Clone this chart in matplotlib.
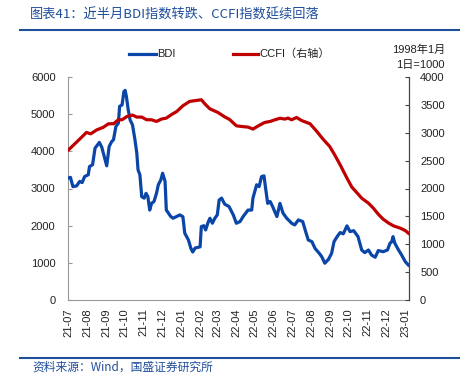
import matplotlib
matplotlib.use("Agg")
import matplotlib.pyplot as plt
import numpy as np
import pandas as pd

plt.rcParams['font.family'] = ['Liberation Sans', 'Noto Sans CJK SC', 'DejaVu Sans']

# ---- data ----
bdi_dates = ["2021-07-01","2021-07-05","2021-07-09","2021-07-15","2021-07-20","2021-07-24","2021-07-28",
             "2021-08-03","2021-08-05","2021-08-10","2021-08-14","2021-08-21","2021-08-25","2021-08-29",
             "2021-09-02","2021-09-06","2021-09-10","2021-09-13","2021-09-17","2021-09-21","2021-09-23",
             "2021-09-27","2021-09-30","2021-10-02","2021-10-04","2021-10-07","2021-10-10","2021-10-14",
             "2021-10-18","2021-10-21","2021-10-23","2021-10-26","2021-10-29","2021-11-02","2021-11-05",
             "2021-11-08","2021-11-11","2021-11-14","2021-11-18","2021-11-22","2021-11-25","2021-11-29",
             "2021-12-02","2021-12-06","2021-12-08","2021-12-11","2021-12-15","2021-12-19","2021-12-24",
             "2021-12-30","2022-01-04","2022-01-07","2022-01-13","2022-01-17","2022-01-20","2022-01-24",
             "2022-02-01","2022-02-03","2022-02-07","2022-02-10","2022-02-14","2022-02-17","2022-02-21",
             "2022-02-25","2022-03-01","2022-03-04","2022-03-08","2022-03-13","2022-03-20","2022-03-27",
             "2022-04-01","2022-04-07","2022-04-12","2022-04-20","2022-04-26","2022-04-28","2022-05-04",
             "2022-05-08","2022-05-12","2022-05-16","2022-05-19","2022-05-22","2022-05-26","2022-05-30",
             "2022-06-06","2022-06-11","2022-06-16","2022-06-22","2022-06-30","2022-07-05","2022-07-11",
             "2022-07-18","2022-07-22","2022-07-27","2022-08-02","2022-08-07","2022-08-14","2022-08-18",
             "2022-08-23","2022-08-29","2022-09-03","2022-09-07","2022-09-12","2022-09-17","2022-09-22",
             "2022-09-28","2022-10-03","2022-10-09","2022-10-16","2022-10-22","2022-10-27","2022-11-02",
             "2022-11-07","2022-11-13","2022-11-18","2022-11-26","2022-12-03","2022-12-07","2022-12-10",
             "2022-12-12","2022-12-15","2022-12-21","2022-12-26","2023-01-01","2023-01-06"]
bdi_values = [3278,3300,3050,3070,3190,3160,3320,
              3370,3590,3640,4085,4240,4110,3860,
              3610,4130,4260,4310,4670,4760,5210,
              5250,5610,5640,5480,5120,4850,4710,
              4310,3950,3500,3370,2780,2740,2870,
              2780,2420,2600,2650,2870,3100,3230,
              3410,3190,2420,2350,2250,2200,2240,
              2290,2240,1800,1615,1390,1290,1400,
              1430,1975,2000,1885,2090,2200,2065,
              2200,2290,2690,2740,2580,2515,2290,
              2065,2110,2245,2420,2420,2740,3100,
              3050,3320,3340,2960,2600,2650,2515,
              2245,2600,2335,2200,2065,2020,2155,
              2110,1885,1615,1570,1390,1255,1165,
              990,1095,1255,1570,1705,1815,1780,
              1995,1840,1865,1705,1345,1275,1345,
              1210,1150,1330,1300,1345,1525,1570,
              1705,1525,1345,1210,1030,940]

ccfi_dates = ["2021-07-02","2021-07-16","2021-07-31","2021-08-07","2021-08-17","2021-08-27","2021-09-05",
              "2021-09-13","2021-09-21","2021-09-27","2021-10-05","2021-10-14","2021-10-21","2021-10-29",
              "2021-11-06","2021-11-14","2021-11-22","2021-11-30","2021-12-08","2021-12-16","2021-12-25",
              "2022-01-04","2022-01-15","2022-01-26","2022-02-03","2022-02-09","2022-02-17","2022-03-02",
              "2022-03-13","2022-03-21","2022-04-01","2022-04-09","2022-04-20","2022-04-28","2022-05-07",
              "2022-05-17","2022-05-26","2022-06-03","2022-06-11","2022-06-19","2022-06-24","2022-06-30",
              "2022-07-08","2022-07-16","2022-07-30","2022-08-10","2022-08-20","2022-08-31","2022-09-08",
              "2022-09-17","2022-09-28","2022-10-06","2022-10-14","2022-10-22","2022-11-02","2022-11-10",
              "2022-11-18","2022-11-26","2022-12-05","2022-12-13","2022-12-24","2023-01-01","2023-01-06"]
ccfi_values = [2694,2843,3005,2981,3053,3095,3161,
               3161,3233,3233,3292,3317,3281,3281,
               3233,3233,3203,3245,3263,3323,3382,
               3484,3562,3580,3592,3515,3428,3364,
               3285,3238,3125,3113,3101,3066,3125,
               3184,3203,3233,3260,3245,3263,3233,
               3274,3220,3161,3023,2886,2753,2604,
               2424,2186,2024,1927,1827,1737,1647,
               1539,1449,1378,1329,1288,1245,1198]

month_ticks = ["21-07","21-08","21-09","21-10","21-11","21-12","22-01","22-02","22-03",
               "22-04","22-05","22-06","22-07","22-08","22-09","22-10","22-11","22-12","23-01"]

title_text = "图表41：近半月BDI指数转跌、CCFI指数延续回落"
source_text = "资料来源：Wind，国盛证券研究所"

# ---- figure ----
W, H = 471, 385
fig = plt.figure(figsize=(W/100, H/100), dpi=100)
ax = fig.add_axes([68/W, 1-300/H, (409-68)/W, (300-77)/H])
ax2 = ax.twinx()

blue = "#0A46A8"
red = "#C00000"
navy = "#1F4E9A"

bd = pd.to_datetime(bdi_dates)
cd = pd.to_datetime(ccfi_dates)
ax.plot(bd, bdi_values, color=blue, lw=2.3, solid_joinstyle='round', zorder=3)
ax2.plot(cd, ccfi_values, color=red, lw=2.3, solid_joinstyle='round', zorder=3)

ax.set_ylim(0, 6000)
ax.set_yticks(np.arange(0, 6001, 1000))
ax2.set_ylim(0, 4000)
ax2.set_yticks(np.arange(0, 4001, 500))

tick_dates = pd.to_datetime(["20" + t + "-01" for t in month_ticks])
ax.set_xlim(pd.Timestamp("2021-07-01"), pd.Timestamp("2023-01-07"))
ax.set_xticks(tick_dates)
ax.set_xticklabels(month_ticks, rotation=90, fontsize=8, color="#222222")
ax.tick_params(axis='x', length=0, pad=6)
ax.tick_params(axis='y', direction='in', length=3, labelsize=8, colors="#222222", pad=9, color="#999999")
ax2.tick_params(axis='y', direction='in', length=3, labelsize=8, colors="#222222", pad=8, color="#444444")

for a in (ax, ax2):
    a.spines['top'].set_visible(False)
ax.spines['left'].set_color("#999999")
ax.spines['bottom'].set_color("#999999")
ax2.spines['left'].set_visible(False)
ax2.spines['bottom'].set_visible(False)
ax2.spines['right'].set_color("#444444")

# legend (drawn manually in figure coordinates)
fig.add_artist(plt.Line2D([129/W, 156/W], [1-54/H, 1-54/H], color=blue, lw=2.3))
fig.text(157/W, 1-54/H, "BDI", fontsize=8, va='center', ha='left', color="#222222")
fig.add_artist(plt.Line2D([233/W, 258/W], [1-54/H, 1-54/H], color=red, lw=2.3))
fig.text(259/W, 1-54/H, "CCFI（右轴）", fontsize=8, va='center', ha='left', color="#222222")

fig.text(445/W, 1-50/H, "1998年1月", fontsize=8, va='center', ha='right', color="#222222")
fig.text(445/W, 1-65/H, "1日=1000", fontsize=8, va='center', ha='right', color="#222222")

# title and source
fig.text(30/W, 1-15/H, title_text, fontsize=9.5, va='center', ha='left', color=navy,
         family=['Noto Sans CJK SC', 'DejaVu Sans'])
fig.add_artist(plt.Line2D([20/W, 459/W], [1-30/H, 1-30/H], color=navy, lw=1.5))
fig.add_artist(plt.Line2D([20/W, 459/W], [1-358/H, 1-358/H], color=navy, lw=1.5))
fig.text(32/W, 1-367/H, source_text, fontsize=8.5, va='center', ha='left', color=navy,
         family=['Noto Sans CJK SC', 'DejaVu Sans'])

fig.savefig("out.png", dpi=100)
